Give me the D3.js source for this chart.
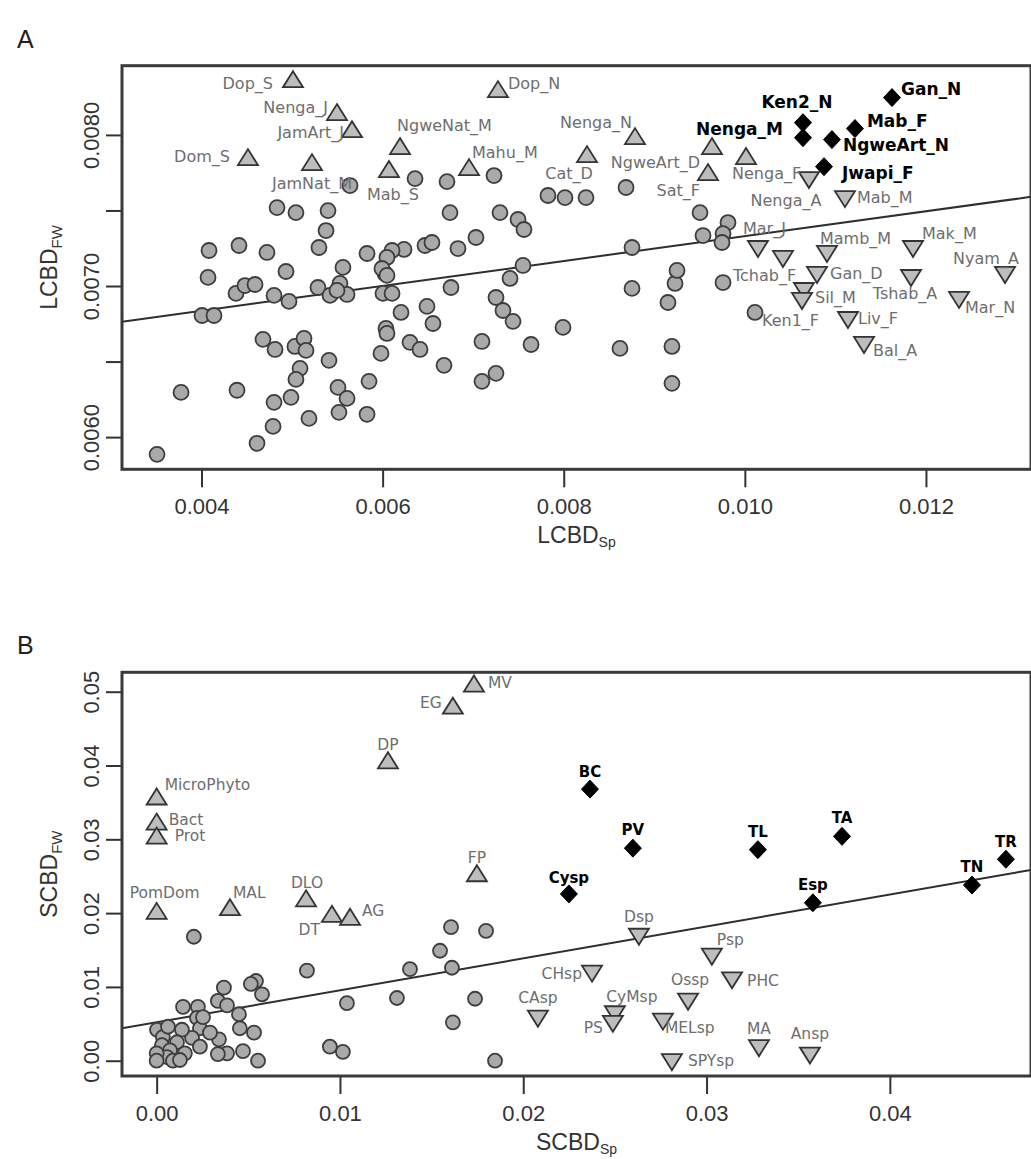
<!DOCTYPE html>
<html><head><meta charset="utf-8">
<script src="https://cdn.jsdelivr.net/npm/d3@7"></script>
<style>body{margin:0;background:#fff} svg{display:block}</style>
</head><body><svg id="c" width="1031" height="1159"></svg>
<script>
// ---------------- Panel A data (LCBD) ----------------
const A_circleSp = [0.004834,0.005043,0.005397,0.005375,0.005297,0.004083,0.004414,0.004723,0.004933,0.004072,0.005562,0.004381,0.004480,0.004591,0.004801,0.004966,0.005286,0.005529,0.005419,0.005607,0.004006,0.004138,0.004679,0.004812,0.005032,0.005132,0.005154,0.005408,0.005088,0.005043,0.003774,0.004392,0.004801,0.004988,0.005507,0.005607,0.005518,0.005187,0.004790,0.004613,0.003509,0.005496,0.006004,0.006104,0.006026,0.006755,0.007407,0.007252,0.007329,0.007440,0.006203,0.006490,0.006556,0.006037,0.006048,0.005982,0.006302,0.006413,0.006678,0.007097,0.007639,0.007992,0.008754,0.008621,0.009151,0.009229,0.009195,0.009195,0.007097,0.007252,0.005850,0.005828,0.005640,0.006358,0.006711,0.007230,0.007826,0.008014,0.008246,0.008688,0.006744,0.007296,0.007495,0.007561,0.007031,0.006832,0.006468,0.006545,0.006236,0.006104,0.006048,0.005828,0.005993,0.006048,0.007550,0.008754,0.009251,0.009505,0.009814,0.009759,0.009538,0.009748];
const A_circleFw = [0.007519,0.007486,0.007499,0.007367,0.007255,0.007235,0.007268,0.007222,0.007096,0.007057,0.007123,0.006951,0.007003,0.007010,0.006938,0.006898,0.006990,0.007017,0.006938,0.006944,0.006805,0.006805,0.006647,0.006580,0.006600,0.006653,0.006574,0.006508,0.006455,0.006382,0.006296,0.006310,0.006230,0.006263,0.006329,0.006256,0.006164,0.006124,0.006071,0.005959,0.005886,0.006971,0.006951,0.006951,0.007083,0.006990,0.007050,0.006924,0.006838,0.006766,0.006825,0.006865,0.006752,0.006719,0.006686,0.006554,0.006627,0.006580,0.006475,0.006633,0.006613,0.006726,0.006984,0.006587,0.006891,0.007017,0.006600,0.006356,0.006369,0.006422,0.006369,0.006151,0.007665,0.007711,0.007691,0.007731,0.007599,0.007585,0.007585,0.007652,0.007486,0.007486,0.007440,0.007374,0.007321,0.007248,0.007268,0.007288,0.007242,0.007235,0.007189,0.007215,0.007116,0.007070,0.007136,0.007255,0.007103,0.007486,0.007420,0.007347,0.007334,0.007288];
// labelled sites: name, LCBD_Sp, LCBD_FW, group (c circle, u upper, d lower, k key)
const A_names = ["Tchab_F","Ken1_F","Dop_S","Nenga_J","JamArt_J","Dom_S","JamNat_M","NgweNat_M","Mab_S","Mahu_M","Dop_N","Nenga_N","Cat_D","NgweArt_D","Nenga_F","Sat_F","Nenga_A","Mab_M","Mar_J","","Mamb_M","Mak_M","Nyam_A","Gan_D","Tshab_A","Sil_M","","Liv_F","Bal_A","Mar_N","Gan_N","Ken2_N","Nenga_M","Mab_F","NgweArt_N","Jwapi_F"];
const A_sp = [0.009759,0.010112,0.005010,0.005496,0.005662,0.004513,0.005220,0.006192,0.006070,0.006954,0.007274,0.008787,0.008257,0.009637,0.010013,0.009593,0.010708,0.011106,0.010145,0.010421,0.010907,0.011857,0.012873,0.010797,0.011835,0.010653,0.010631,0.011139,0.011316,0.012365,0.011625,0.010642,0.010642,0.011216,0.010962,0.010874];
const A_fw = [0.007023,0.006825,0.008359,0.008141,0.008028,0.007843,0.007810,0.007916,0.007764,0.007777,0.008293,0.007982,0.007863,0.007916,0.007850,0.007744,0.007711,0.007585,0.007255,0.007189,0.007222,0.007255,0.007083,0.007083,0.007063,0.006977,0.006911,0.006785,0.006620,0.006918,0.008247,0.008081,0.007982,0.008042,0.007969,0.007790];
const A_group = ["c","c","u","u","u","u","u","u","u","u","u","u","u","u","u","u","d","d","d","d","d","d","d","d","d","d","d","d","d","d","k","k","k","k","k","k"];
const A_fit = [0.006507, 0.0823]; // intercept, slope
const A_xTicks = [0.004,0.006,0.008,0.010,0.012];
const A_yTicks = [0.0060,0.0065,0.0070,0.0075,0.0080];
const A_yTickLabels = ["0.0060","","0.0070","","0.0080"];

// ---------------- Panel B data (SCBD) ----------------
const B_circleSp = [0.01606,0.01797,0.01546,0.01382,0.01611,0.01038,0.01311,0.01737,0.01616,0.01846,0.01016,0.00945,0.00203,0.00820,0.00542,0.00575,0.00514,0.00367,0.00334,0.00384,0.00449,0.00454,0.00531,0.00553,0.00471,0.00384,0.00334,0.00340,0.00225,0.00144,0.00220,0.00236,0.00193,0.00138,0.00002,0.00034,0.00111,0.00029,0.00073,0.00154,0.00056,0.00089,0.00000,0.00000,0.00127,0.00236,0.00253,0.00291,0.00062];
const B_circleFw = [0.0181,0.0176,0.0149,0.0124,0.0126,0.0078,0.0085,0.0084,0.0052,0.0000,0.0012,0.0019,0.0168,0.0122,0.0108,0.0090,0.0104,0.0099,0.0081,0.0075,0.0063,0.0044,0.0038,0.0000,0.0013,0.0010,0.0009,0.0029,0.0073,0.0073,0.0058,0.0044,0.0031,0.0042,0.0042,0.0032,0.0025,0.0021,0.0014,0.0010,0.0005,0.0000,0.0010,0.0000,0.0001,0.0019,0.0059,0.0038,0.0046];
const B_names = ["MicroPhyto","Bact","Prot","PomDom","MAL","DLO","DT","AG","DP","EG","MV","FP","BC","PV","TL","TA","TR","Cysp","Esp","TN","Dsp","CHsp","CAsp","CyMsp","PS","MELsp","Ossp","SPYsp","Psp","PHC","MA","Ansp"];
const B_sp = [0.0000,0.0000,0.0000,0.0000,0.0040,0.00815,0.00956,0.01055,0.01262,0.01616,0.01731,0.01747,0.02364,0.02598,0.0328,0.03739,0.04633,0.02249,0.0358,0.04448,0.02631,0.02375,0.0208,0.0250,0.02489,0.02762,0.02899,0.02811,0.03029,0.03139,0.03286,0.03564];
const B_fw = [0.0356,0.0322,0.0303,0.0201,0.0206,0.0218,0.0197,0.0193,0.0405,0.0479,0.0509,0.0252,0.0368,0.0288,0.0286,0.0304,0.0273,0.0226,0.0214,0.0238,0.0170,0.0120,0.0059,0.0065,0.0052,0.0055,0.0082,0.0000,0.0143,0.0111,0.0019,0.0009];
const B_group = ["u","u","u","u","u","u","u","u","u","u","u","u","k","k","k","k","k","k","k","k","d","d","d","d","d","d","d","d","d","d","d","d"];
const B_fit = [0.00521, 0.4326];
const B_xTicks = [0.00,0.01,0.02,0.03,0.04];
const B_yTicks = [0.00,0.01,0.02,0.03,0.04,0.05];

// ---------------- layout (label placement, px offsets) ----------------
const A_labelPos = {"Tchab_F":[10,-7,"start"],"Ken1_F":[7,8,"start"],"Dop_S":[-20,3,"end"],"Nenga_J":[-9,-6,"end"],"JamArt_J":[-8,2,"end"],"Dom_S":[-18,-2,"end"],"JamNat_M":[0,20,"middle"],"NgweNat_M":[-3,-22,"start"],"Mab_S":[4,24,"middle"],"Mahu_M":[3,-16,"start"],"Dop_N":[10,-7,"start"],"Nenga_N":[-3,-15,"end"],"Cat_D":[-18,18,"middle"],"NgweArt_D":[-12,15,"end"],"Nenga_F":[-14,16,"start"],"Sat_F":[-8,17,"end"],"Nenga_A":[-23,22,"middle"],"Mab_M":[12,0,"start"],"Mar_J":[-15,-19,"start"],"Mamb_M":[-7,-14,"start"],"Mak_M":[9,-14,"start"],"Nyam_A":[-19,-15,"middle"],"Gan_D":[13,0,"start"],"Tshab_A":[-6,17,"middle"],"Sil_M":[11,8,"start"],"Liv_F":[10,0,"start"],"Bal_A":[9,7,"start"],"Mar_N":[6,9,"start"],"Gan_N":[9,-9,"start"],"Ken2_N":[-6,-21,"middle"],"Nenga_M":[-20,-9,"end"],"Mab_F":[12,-8,"start"],"NgweArt_N":[11,5,"start"],"Jwapi_F":[18,6,"start"]};
const B_labelPos = {"MicroPhyto":[8,-13,"start"],"Bact":[12,-3,"start"],"Prot":[18,-1,"start"],"PomDom":[8,-19,"middle"],"MAL":[3,-16,"start"],"DLO":[1,-17,"middle"],"DT":[-12,15,"end"],"AG":[12,-7,"start"],"DP":[0,-17,"middle"],"EG":[-11,-4,"end"],"MV":[14,-2,"start"],"FP":[0,-17,"middle"],"BC":[0,-17,"middle"],"PV":[0,-18,"middle"],"TL":[0,-18,"middle"],"TA":[0,-18,"middle"],"TR":[0,-17,"middle"],"Cysp":[0,-16,"middle"],"Esp":[0,-18,"middle"],"TN":[0,-18,"middle"],"Dsp":[0,-18,"middle"],"CHsp":[-10,2,"end"],"CAsp":[0,-19,"middle"],"CyMsp":[17,-16,"middle"],"PS":[-10,6,"end"],"MELsp":[2,8,"start"],"Ossp":[2,-20,"middle"],"SPYsp":[16,0,"start"],"Psp":[5,-15,"start"],"PHC":[15,2,"start"],"MA":[0,-18,"middle"],"Ansp":[0,-20,"middle"]};

const svg = d3.select("#c");
const SANS = "'Liberation Sans', Arial, sans-serif";
const LBL = "'DejaVu Sans', Verdana, sans-serif";
const shapes = {
  u: "M0,-9.5L10,6.5L-10,6.5Z",
  d: "M0,9.5L10,-6.5L-10,-6.5Z",
  k: "M0,-9L8.5,0L0,9L-8.5,0Z"
};

function panel(o){
  const g = svg.append("g");
  const x = d3.scaleLinear().domain(o.xDomain).range([o.left, o.right]);
  const y = d3.scaleLinear().domain(o.yDomain).range([o.bottom, o.top]);
  const cid = "clip" + o.id;
  g.append("clipPath").attr("id", cid).append("rect")
    .attr("x", o.left).attr("y", o.top).attr("width", o.right - o.left).attr("height", o.bottom - o.top);
  // regression line
  g.append("line").attr("clip-path", `url(#${cid})`)
    .attr("x1", x(o.xDomain[0])).attr("y1", y(o.fit[0] + o.fit[1]*o.xDomain[0]))
    .attr("x2", x(o.xDomain[1])).attr("y2", y(o.fit[0] + o.fit[1]*o.xDomain[1]))
    .attr("stroke", "#2e2e2e").attr("stroke-width", 2);
  // circles (unlabelled)
  g.selectAll("circle.pt").data(d3.range(o.cx.length)).join("circle").attr("class","pt")
    .attr("cx", i => x(o.cx[i])).attr("cy", i => y(o.cy[i])).attr("r", o.r)
    .attr("fill", "#a9a9a9").attr("stroke", "#3d3d3d").attr("stroke-width", 1.8);
  // labelled points
  const idx = d3.range(o.names.length);
  idx.forEach(i => {
    const gr = o.group[i], px = x(o.sp[i]), py = y(o.fw[i]);
    if (gr === "c") {
      g.append("circle").attr("cx", px).attr("cy", py).attr("r", o.r)
        .attr("fill", "#a9a9a9").attr("stroke", "#3d3d3d").attr("stroke-width", 1.8);
    } else {
      g.append("path").attr("d", shapes[gr]).attr("transform", `translate(${px},${py})`)
        .attr("fill", gr === "k" ? "#000" : "#bdbdbd")
        .attr("stroke", gr === "k" ? "#000" : "#333").attr("stroke-width", gr === "k" ? 1 : 1.8)
        .attr("stroke-linejoin", "miter");
    }
  });
  idx.forEach(i => {
    const nm = o.names[i]; if (!nm) return;
    const p = o.labelPos[nm] || [10, 0, "start"];
    const bold = o.group[i] === "k";
    g.append("text").attr("x", x(o.sp[i]) + p[0]).attr("y", y(o.fw[i]) + p[1])
      .attr("text-anchor", p[2]).attr("dominant-baseline", "central")
      .attr("font-family", LBL).attr("font-size", bold ? o.boldSize : o.lblSize)
      .attr("font-weight", bold ? "bold" : "normal")
      .attr("fill", bold ? "#000" : "#6e6e6e").text(nm);
  });
  // axes
  const xa = g.append("g").attr("transform", `translate(0,${o.bottom})`)
    .call(d3.axisBottom(x).tickValues(o.xTicks).tickSize(18).tickPadding(11).tickFormat(d3.format(o.xFmt)));
  const ya = g.append("g").attr("transform", `translate(${o.left},0)`)
    .call(d3.axisLeft(y).tickValues(o.yTicks).tickSize(16).tickFormat((d,i) => o.yLabels[i]));
  [xa, ya].forEach(a => {
    a.select(".domain").remove();
    a.selectAll("line").attr("stroke", "#333").attr("stroke-width", 2);
    a.selectAll("text").attr("font-family", SANS).attr("font-size", 22).attr("fill", "#333");
  });
  ya.selectAll("text").attr("transform", "rotate(-90)").attr("x", 0).attr("y", -23)
    .attr("dy", 0).attr("text-anchor", "middle");
  // box
  g.append("rect").attr("x", o.left).attr("y", o.top).attr("width", o.right - o.left).attr("height", o.bottom - o.top)
    .attr("fill", "none").attr("stroke", "#3a3a3a").attr("stroke-width", 3);
  // titles
  const xt = g.append("text").attr("x", (o.left + 1031) / 2).attr("y", o.bottom + 74)
    .attr("text-anchor", "middle").attr("font-family", SANS).attr("font-size", 23).attr("fill", "#333");
  xt.append("tspan").text(o.xTitle[0]);
  xt.append("tspan").attr("font-size", 14).attr("dy", 4).text(o.xTitle[1]);
  const yt = g.append("text").attr("transform", `translate(57,${(o.top + o.bottom) / 2}) rotate(-90)`)
    .attr("text-anchor", "middle").attr("font-family", SANS).attr("font-size", 23).attr("fill", "#333");
  yt.append("tspan").text(o.yTitle[0]);
  yt.append("tspan").attr("font-size", 15).attr("dy", 5).text(o.yTitle[1]);
  svg.append("text").attr("x", 17).attr("y", o.top - 18).attr("font-family", SANS)
    .attr("font-size", 25).attr("fill", "#222").text(o.id);
}

panel({id:"A", left:122, right:1031, top:65.7, bottom:469.3,
  xDomain:[0.003122, 0.01316], yDomain:[0.005787, 0.008458],
  cx:A_circleSp, cy:A_circleFw, names:A_names, sp:A_sp, fw:A_fw, group:A_group,
  fit:A_fit, xTicks:A_xTicks, yTicks:A_yTicks, yLabels:A_yTickLabels, xFmt:".3f",
  labelPos:A_labelPos, r:7.5, lblSize:16, boldSize:17,
  xTitle:["LCBD","Sp"], yTitle:["LCBD","FW"]});

panel({id:"B", left:122, right:1031, top:672.3, bottom:1076,
  xDomain:[-0.00189, 0.0477], yDomain:[-0.00207, 0.05263],
  cx:B_circleSp, cy:B_circleFw, names:B_names, sp:B_sp, fw:B_fw, group:B_group,
  fit:B_fit, xTicks:B_xTicks, yTicks:B_yTicks, yLabels:B_yTicks.map(d3.format(".2f")), xFmt:".2f",
  labelPos:B_labelPos, r:7, lblSize:15.5, boldSize:15,
  xTitle:["SCBD","Sp"], yTitle:["SCBD","FW"]});
</script></body></html>
